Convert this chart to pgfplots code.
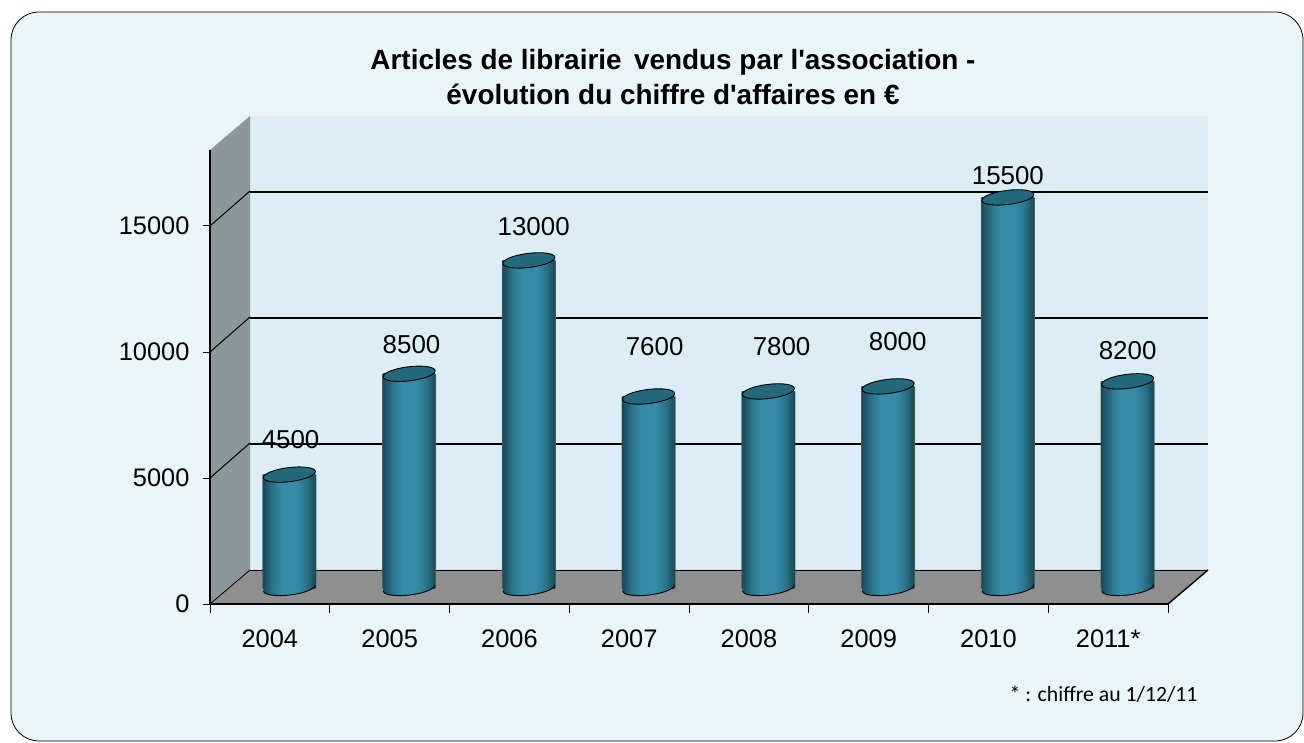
\documentclass[border=0pt]{standalone}
\usepackage{fontspec}
\setmainfont{Liberation Sans}
\newfontfamily\titlefont{Liberation Sans}
\newfontfamily\notefont{Carlito}
\usepackage{pgfplots}
\usepackage{pgfplotstable}
\pgfplotsset{compat=1.18}

\definecolor{panel}{HTML}{E9F5F8}
\definecolor{backwall}{HTML}{DCEEF5}
\definecolor{sidewall}{HTML}{8C979B}
\definecolor{floorgrey}{HTML}{8F8F8F}
\definecolor{cyltopc}{HTML}{22697C}

\pgfdeclarehorizontalshading{cyl}{100bp}{
  rgb(0bp)=(0.10,0.30,0.36); rgb(25bp)=(0.10,0.30,0.36);
  rgb(33bp)=(0.16,0.44,0.53); rgb(43bp)=(0.21,0.55,0.66);
  rgb(57bp)=(0.21,0.55,0.66); rgb(67bp)=(0.16,0.44,0.53);
  rgb(75bp)=(0.10,0.28,0.33); rgb(100bp)=(0.10,0.28,0.33)}

% tilted ellipse for the top of a cylinder, lower half for its base
\pgfdeclareplotmark{cyltop}{%
  \pgfpathellipse{\pgfpointorigin}{\pgfqpoint{26bp}{3.2bp}}{\pgfqpoint{-0.9bp}{7bp}}%
  \pgfusepathqfillstroke}
\pgfdeclareplotmark{cylbase}{%
  \pgftransformrotate{7}%
  \pgfpathmoveto{\pgfqpoint{-26bp}{0bp}}%
  \pgfpatharc{180}{360}{26bp and 7bp}%
  \pgfpathlineto{\pgfqpoint{26bp}{5bp}}%
  \pgfpathlineto{\pgfqpoint{-26bp}{5bp}}%
  \pgfpathclose
  \pgfshadepath{cyl}{0}\pgfusepath{discard}%
  \pgfpathmoveto{\pgfqpoint{-26bp}{0bp}}%
  \pgfpatharc{180}{360}{26bp and 7bp}%
  \pgfusepathqstroke}

\pgfplotstableread{
x value
0 4500
1 8500
2 13000
3 7600
4 7800
5 8000
6 15500
7 8200
}\sales

% where the value labels sit
\pgfplotstableread{
x ypos label
0.01 5873 4500
1.02 9643 8500
2.04 14325 13000
3.05 9563 7600
4.11 9563 7800
5.08 9762 8000
6.00 16349 15500
7.00 9405 8200
}\labels

\pgfplotsset{plane/.style={
  scale only axis, width=958bp, height=453.6bp,
  anchor=south west, clip=false, scaled ticks=false,
  xmin=-0.5, xmax=7.5, ymin=0, ymax=18000}}

\begin{document}
\begin{tikzpicture}
\begin{scope}[x=1bp,y=-1bp,yshift=742bp]
  \fill[white] (0,0) rectangle (1304,742);
  \path[use as bounding box] (0,0) rectangle (1304,742);
  \draw[fill=panel,line width=0.8bp,rounded corners=28bp] (11,12) rectangle (1303,741);
  \fill[backwall] (250,116) rectangle (1208,570);
  \fill[sidewall] (210,150) -- (250,116) -- (250,570) -- (210,604) -- cycle;
  \fill[floorgrey] (210,604) -- (250,570) -- (1208,570) -- (1168,604) -- cycle;
  \draw[line width=0.9bp] (250,570) -- (1208,570);
  \draw[line width=1.4bp] (1208,570) -- (1168,604);
  \draw[line width=0.8bp] (210,604) -- (250,570);
  \foreach \yf/\yb in {478/443,352/317,226/191}
    \draw[line width=1bp] (210,\yf) -- (250,\yb);
  \node[font=\fontsize{28}{36}\titlefont\bfseries,align=center,anchor=center]
    at (673,77) {Articles de librairie\, vendus par l'association -\\évolution du chiffre d'affaires en €};
  \node[font=\fontsize{21.8}{26}\notefont,anchor=east] at (1201,694) {* : chiffre au 1/12/11};
\end{scope}

% gridlines on the back wall
\begin{axis}[plane, at={(250bp,172bp)},
  axis line style={draw=none}, tick style={draw=none},
  xtick=\empty, ytick={5000,10000,15000}, yticklabels={},
  ymajorgrids, grid style={black,line width=1.8bp}]
\end{axis}

% front plane with the axes and tick labels
\begin{axis}[plane, at={(210bp,138bp)},
  axis x line=bottom, axis y line=left,
  axis line style={-,line width=1.6bp},
  tick align=outside,
  xtick={0,...,7},
  xticklabels={2004,2005,2006,2007,2008,2009,2010,2011*},
  minor xtick={-0.5,0.5,...,7.5},
  major x tick style={draw=none},
  minor x tick style={black,line width=1bp},
  minor tick length=9bp,
  ytick={0,5000,10000,15000},
  y tick style={black,line width=1bp},
  major tick length=7bp,
  tick label style={font=\fontsize{25.5}{28}\selectfont},
  xticklabel style={yshift=-15bp},
  yticklabel style={xshift=-10bp},
  /pgf/number format/assume math mode=true,
  /pgf/number format/1000 sep={}]
\end{axis}

% cylinders, moved off the front plane into the box
\begin{axis}[plane, at={(229.5bp,154bp)}, hide axis]
  \addplot[ybar, bar width=54bp, draw=none, fill=black!65] table[x=x,y=value] {\sales};
  \pgfplotsinvokeforeach{0,...,7}{
    \addplot[ybar, bar width=52bp, draw=none, shading=cyl,
      restrict x to domain=#1:#1] table[x=x,y=value] {\sales};
  }
  \addplot[only marks, mark=cylbase, mark options={draw=black,line width=0.9bp}]
    table[x=x,y expr=0] {\sales};
  \addplot[only marks, mark=cyltop,
    mark options={fill=cyltopc,draw=black,line width=0.9bp}] table[x=x,y=value] {\sales};
  \addplot[draw=none, mark=none, nodes near coords, point meta=explicit symbolic,
    every node near coord/.append style={anchor=center,inner sep=0pt,
      font=\fontsize{26}{28}\selectfont}]
    table[x=x,y=ypos,meta=label] {\labels};
\end{axis}
\end{tikzpicture}
\end{document}
